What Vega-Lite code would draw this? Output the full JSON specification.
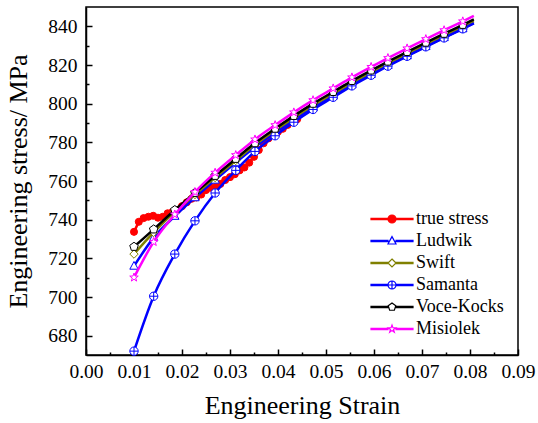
{
  "$schema": "https://vega.github.io/schema/vega-lite/v6.json",
  "width": 432,
  "height": 348,
  "autosize": {"type": "none"},
  "padding": {"left": 86, "top": 7, "right": 20, "bottom": 68},
  "config": {
    "view": {"stroke": "black", "strokeWidth": 1.5},
    "font": "Times New Roman",
    "axis": {
      "grid": false,
      "domainColor": "black",
      "domainWidth": 1.5,
      "tickColor": "black",
      "tickWidth": 1.5,
      "labelFont": "Times New Roman",
      "labelFontSize": 19.5,
      "labelColor": "black",
      "titleFont": "Times New Roman",
      "titleFontSize": 26,
      "titleFontWeight": "normal",
      "titleColor": "black"
    },
    "legend": {"labelFont": "Times New Roman", "labelFontSize": 18, "labelColor": "black"}
  },
  "data": {
    "values": [
      {"series": "true stress", "strain": 0.0100, "stress": 733.7},
      {"series": "true stress", "strain": 0.0110, "stress": 738.9},
      {"series": "true stress", "strain": 0.0120, "stress": 740.8},
      {"series": "true stress", "strain": 0.0130, "stress": 741.5},
      {"series": "true stress", "strain": 0.0140, "stress": 742.0},
      {"series": "true stress", "strain": 0.0150, "stress": 741.0},
      {"series": "true stress", "strain": 0.0160, "stress": 741.5},
      {"series": "true stress", "strain": 0.0170, "stress": 743.3},
      {"series": "true stress", "strain": 0.0180, "stress": 744.0},
      {"series": "true stress", "strain": 0.0190, "stress": 745.0},
      {"series": "true stress", "strain": 0.0200, "stress": 747.0},
      {"series": "true stress", "strain": 0.0210, "stress": 749.0},
      {"series": "true stress", "strain": 0.0220, "stress": 750.8},
      {"series": "true stress", "strain": 0.0230, "stress": 751.5},
      {"series": "true stress", "strain": 0.0240, "stress": 753.0},
      {"series": "true stress", "strain": 0.0250, "stress": 755.3},
      {"series": "true stress", "strain": 0.0260, "stress": 756.5},
      {"series": "true stress", "strain": 0.0270, "stress": 757.0},
      {"series": "true stress", "strain": 0.0280, "stress": 758.5},
      {"series": "true stress", "strain": 0.0290, "stress": 760.5},
      {"series": "true stress", "strain": 0.0300, "stress": 762.0},
      {"series": "true stress", "strain": 0.0310, "stress": 763.5},
      {"series": "true stress", "strain": 0.0320, "stress": 765.5},
      {"series": "true stress", "strain": 0.0330, "stress": 767.0},
      {"series": "true stress", "strain": 0.0340, "stress": 769.5},
      {"series": "true stress", "strain": 0.0350, "stress": 772.5},
      {"series": "true stress", "strain": 0.0360, "stress": 776.0},
      {"series": "true stress", "strain": 0.0370, "stress": 779.5},
      {"series": "true stress", "strain": 0.0380, "stress": 782.0},
      {"series": "true stress", "strain": 0.0390, "stress": 784.0},
      {"series": "true stress", "strain": 0.0400, "stress": 785.5},
      {"series": "true stress", "strain": 0.0410, "stress": 787.0},
      {"series": "true stress", "strain": 0.0420, "stress": 789.0},
      {"series": "true stress", "strain": 0.0430, "stress": 790.5},
      {"series": "true stress", "strain": 0.0440, "stress": 792.0},

      {"series": "Ludwik", "strain": 0.0100, "stress": 716.0},
      {"series": "Ludwik", "strain": 0.0141, "stress": 730.7},
      {"series": "Ludwik", "strain": 0.0185, "stress": 741.8},
      {"series": "Ludwik", "strain": 0.0227, "stress": 751.4},
      {"series": "Ludwik", "strain": 0.0269, "stress": 760.5},
      {"series": "Ludwik", "strain": 0.0312, "stress": 769.5},
      {"series": "Ludwik", "strain": 0.0352, "stress": 777.6},
      {"series": "Ludwik", "strain": 0.0394, "stress": 785.1},
      {"series": "Ludwik", "strain": 0.0433, "stress": 791.7},
      {"series": "Ludwik", "strain": 0.0473, "stress": 798.0},
      {"series": "Ludwik", "strain": 0.0515, "stress": 804.1},
      {"series": "Ludwik", "strain": 0.0554, "stress": 809.8},
      {"series": "Ludwik", "strain": 0.0594, "stress": 815.2},
      {"series": "Ludwik", "strain": 0.0629, "stress": 819.8},
      {"series": "Ludwik", "strain": 0.0669, "stress": 824.8},
      {"series": "Ludwik", "strain": 0.0708, "stress": 829.6},
      {"series": "Ludwik", "strain": 0.0746, "stress": 834.2},
      {"series": "Ludwik", "strain": 0.0785, "stress": 838.8},
      {"series": "Ludwik", "strain": 0.0808, "stress": 841.6},

      {"series": "Swift", "strain": 0.0100, "stress": 722.2},
      {"series": "Swift", "strain": 0.0141, "stress": 733.4},
      {"series": "Swift", "strain": 0.0185, "stress": 744.0},
      {"series": "Swift", "strain": 0.0227, "stress": 753.0},
      {"series": "Swift", "strain": 0.0269, "stress": 761.8},
      {"series": "Swift", "strain": 0.0312, "stress": 770.6},
      {"series": "Swift", "strain": 0.0352, "stress": 778.7},
      {"series": "Swift", "strain": 0.0394, "stress": 786.2},
      {"series": "Swift", "strain": 0.0433, "stress": 792.8},
      {"series": "Swift", "strain": 0.0473, "stress": 799.1},
      {"series": "Swift", "strain": 0.0515, "stress": 805.2},
      {"series": "Swift", "strain": 0.0554, "stress": 810.9},
      {"series": "Swift", "strain": 0.0594, "stress": 816.3},
      {"series": "Swift", "strain": 0.0629, "stress": 820.9},
      {"series": "Swift", "strain": 0.0669, "stress": 825.9},
      {"series": "Swift", "strain": 0.0708, "stress": 830.7},
      {"series": "Swift", "strain": 0.0746, "stress": 835.3},
      {"series": "Swift", "strain": 0.0785, "stress": 839.9},
      {"series": "Swift", "strain": 0.0808, "stress": 842.7},

      {"series": "Samanta", "strain": 0.0100, "stress": 672.0},
      {"series": "Samanta", "strain": 0.0141, "stress": 700.4},
      {"series": "Samanta", "strain": 0.0185, "stress": 722.2},
      {"series": "Samanta", "strain": 0.0227, "stress": 739.4},
      {"series": "Samanta", "strain": 0.0269, "stress": 753.8},
      {"series": "Samanta", "strain": 0.0312, "stress": 765.5},
      {"series": "Samanta", "strain": 0.0352, "stress": 775.3},
      {"series": "Samanta", "strain": 0.0394, "stress": 783.4},
      {"series": "Samanta", "strain": 0.0433, "stress": 790.4},
      {"series": "Samanta", "strain": 0.0473, "stress": 797.0},
      {"series": "Samanta", "strain": 0.0515, "stress": 803.3},
      {"series": "Samanta", "strain": 0.0554, "stress": 809.2},
      {"series": "Samanta", "strain": 0.0594, "stress": 814.7},
      {"series": "Samanta", "strain": 0.0629, "stress": 819.4},
      {"series": "Samanta", "strain": 0.0669, "stress": 824.5},
      {"series": "Samanta", "strain": 0.0708, "stress": 829.4},
      {"series": "Samanta", "strain": 0.0746, "stress": 834.0},
      {"series": "Samanta", "strain": 0.0785, "stress": 838.7},
      {"series": "Samanta", "strain": 0.0808, "stress": 841.5},

      {"series": "Voce-Kocks", "strain": 0.0100, "stress": 726.0},
      {"series": "Voce-Kocks", "strain": 0.0141, "stress": 735.0},
      {"series": "Voce-Kocks", "strain": 0.0185, "stress": 745.0},
      {"series": "Voce-Kocks", "strain": 0.0227, "stress": 753.9},
      {"series": "Voce-Kocks", "strain": 0.0269, "stress": 762.7},
      {"series": "Voce-Kocks", "strain": 0.0312, "stress": 771.5},
      {"series": "Voce-Kocks", "strain": 0.0352, "stress": 779.6},
      {"series": "Voce-Kocks", "strain": 0.0394, "stress": 787.1},
      {"series": "Voce-Kocks", "strain": 0.0433, "stress": 793.7},
      {"series": "Voce-Kocks", "strain": 0.0473, "stress": 800.0},
      {"series": "Voce-Kocks", "strain": 0.0515, "stress": 806.1},
      {"series": "Voce-Kocks", "strain": 0.0554, "stress": 811.8},
      {"series": "Voce-Kocks", "strain": 0.0594, "stress": 817.2},
      {"series": "Voce-Kocks", "strain": 0.0629, "stress": 821.8},
      {"series": "Voce-Kocks", "strain": 0.0669, "stress": 826.8},
      {"series": "Voce-Kocks", "strain": 0.0708, "stress": 831.6},
      {"series": "Voce-Kocks", "strain": 0.0746, "stress": 836.2},
      {"series": "Voce-Kocks", "strain": 0.0785, "stress": 840.8},
      {"series": "Voce-Kocks", "strain": 0.0808, "stress": 843.6},

      {"series": "Misiolek", "strain": 0.0100, "stress": 710.1},
      {"series": "Misiolek", "strain": 0.0141, "stress": 728.5},
      {"series": "Misiolek", "strain": 0.0185, "stress": 742.7},
      {"series": "Misiolek", "strain": 0.0227, "stress": 754.3},
      {"series": "Misiolek", "strain": 0.0269, "stress": 764.3},
      {"series": "Misiolek", "strain": 0.0312, "stress": 773.4},
      {"series": "Misiolek", "strain": 0.0352, "stress": 781.5},
      {"series": "Misiolek", "strain": 0.0394, "stress": 788.9},
      {"series": "Misiolek", "strain": 0.0433, "stress": 795.5},
      {"series": "Misiolek", "strain": 0.0473, "stress": 801.8},
      {"series": "Misiolek", "strain": 0.0515, "stress": 807.9},
      {"series": "Misiolek", "strain": 0.0554, "stress": 813.6},
      {"series": "Misiolek", "strain": 0.0594, "stress": 819.0},
      {"series": "Misiolek", "strain": 0.0629, "stress": 823.6},
      {"series": "Misiolek", "strain": 0.0669, "stress": 828.6},
      {"series": "Misiolek", "strain": 0.0708, "stress": 833.4},
      {"series": "Misiolek", "strain": 0.0746, "stress": 838.0},
      {"series": "Misiolek", "strain": 0.0785, "stress": 842.6},
      {"series": "Misiolek", "strain": 0.0808, "stress": 845.4}
    ]
  },
  "encoding": {
    "x": {
      "field": "strain",
      "type": "quantitative",
      "scale": {"domain": [0, 0.09], "nice": false, "zero": false},
      "axis": {
        "title": "Engineering Strain",
        "values": [0, 0.005, 0.01, 0.015, 0.02, 0.025, 0.03, 0.035, 0.04, 0.045, 0.05, 0.055, 0.06, 0.065, 0.07, 0.075, 0.08, 0.085, 0.09],
        "labelExpr": "round(datum.value * 1000) % 10 == 0 ? format(datum.value, '.2f') : ''",
        "tickSize": {"condition": {"test": "round(datum.value * 1000) % 10 != 0", "value": -3}, "value": -6},
        "labelPadding": 13,
        "labelFlush": false,
        "labelOverlap": false,
        "titlePadding": 9
      }
    },
    "y": {
      "field": "stress",
      "type": "quantitative",
      "scale": {"domain": [670, 850], "nice": false, "zero": false},
      "axis": {
        "title": "Engineering stress/ MPa",
        "values": [680, 690, 700, 710, 720, 730, 740, 750, 760, 770, 780, 790, 800, 810, 820, 830, 840],
        "labelExpr": "datum.value % 20 == 0 ? format(datum.value, 'd') : ''",
        "tickSize": {"condition": {"test": "datum.value % 20 != 0", "value": -3}, "value": -6},
        "labelPadding": 15,
        "labelOverlap": false,
        "titlePadding": 16
      }
    },
    "color": {
      "field": "series",
      "type": "nominal",
      "scale": {
        "domain": ["true stress", "Ludwik", "Swift", "Samanta", "Voce-Kocks", "Misiolek"],
        "range": ["#ff0000", "#0000ff", "#808000", "#0000ff", "#000000", "#ff00ff"]
      },
      "legend": {
        "title": null,
        "orient": "none",
        "legendX": 297,
        "legendY": 203,
        "padding": 0,
        "labelOffset": 15,
        "rowPadding": 4,
        "symbolSize": 64,
        "symbolFillColor": "white",
        "encode": {
          "symbols": {
            "update": {
              "shape": {"signal": "{'true stress': 'M-5.25,-0.15L5.25,-0.15L5.25,0.15L-5.25,0.15ZM-1,0A1,1,0,1,1,1,0A1,1,0,1,1,-1,0Z', 'Ludwik': 'M-5.25,-0.15L-1,-0.15L-1,0.15L-5.25,0.15ZM1,-0.15L5.25,-0.15L5.25,0.15L1,0.15ZM0,-1.1L1,0.75L-1,0.75Z', 'Swift': 'M-5.25,-0.15L-1,-0.15L-1,0.15L-5.25,0.15ZM1,-0.15L5.25,-0.15L5.25,0.15L1,0.15ZM0,-1L1,0L0,1L-1,0Z', 'Samanta': 'M-5.25,-0.15L-1,-0.15L-1,0.15L-5.25,0.15ZM1,-0.15L5.25,-0.15L5.25,0.15L1,0.15ZM-1,0A1,1,0,1,1,1,0A1,1,0,1,1,-1,0ZM-1,0L1,0M0,-1L0,1', 'Voce-Kocks': 'M-5.25,-0.15L-1,-0.15L-1,0.15L-5.25,0.15ZM1,-0.15L5.25,-0.15L5.25,0.15L1,0.15ZM0,-1L0.951,-0.309L0.588,0.809L-0.588,0.809L-0.951,-0.309Z', 'Misiolek': 'M-5.25,-0.15L-1,-0.15L-1,0.15L-5.25,0.15ZM1,-0.15L5.25,-0.15L5.25,0.15L1,0.15ZM0,-1L0.235,-0.324L0.951,-0.309L0.38,0.124L0.588,0.809L0,0.4L-0.588,0.809L-0.38,0.124L-0.951,-0.309L-0.235,-0.324Z'}[datum.value]"},
              "fill": {"signal": "datum.value === 'true stress' ? '#ff0000' : '#ffffff'"},
              "strokeWidth": {"value": 1.2},
              "size": {"value": 64},
              "opacity": {"value": 1}
            }
          }
        }
      }
    }
  },
  "layer": [
    {"transform": [{"filter": "datum.series === 'true stress'"}], "mark": {"type": "line", "strokeWidth": 2.5}},
    {"transform": [{"filter": "datum.series === 'true stress'"}], "mark": {"type": "point", "filled": false, "fill": "#ff0000", "size": 50, "opacity": 1, "strokeWidth": 1, "shape": "circle"}},

    {"transform": [{"filter": "datum.series === 'Ludwik'"}], "mark": {"type": "line", "strokeWidth": 2.5, "interpolate": "monotone"}},
    {"transform": [{"filter": "datum.series === 'Ludwik' && datum.strain < 0.079"}], "mark": {"type": "point", "filled": false, "fill": "white", "size": 70, "opacity": 1, "strokeWidth": 1, "shape": "M0,-1.1L1,0.75L-1,0.75Z"}},

    {"transform": [{"filter": "datum.series === 'Swift'"}], "mark": {"type": "line", "strokeWidth": 2.5, "interpolate": "monotone"}},
    {"transform": [{"filter": "datum.series === 'Swift' && datum.strain < 0.079"}], "mark": {"type": "point", "filled": false, "fill": "white", "size": 70, "opacity": 1, "strokeWidth": 1, "shape": "M0,-1L1,0L0,1L-1,0Z"}},

    {"transform": [{"filter": "datum.series === 'Samanta'"}], "mark": {"type": "line", "strokeWidth": 2.5, "interpolate": "monotone"}},
    {"transform": [{"filter": "datum.series === 'Samanta' && datum.strain < 0.079"}], "mark": {"type": "point", "filled": false, "fill": "white", "size": 70, "opacity": 1, "strokeWidth": 1, "shape": "M-1,0A1,1,0,1,1,1,0A1,1,0,1,1,-1,0ZM-1,0L1,0M0,-1L0,1"}},

    {"transform": [{"filter": "datum.series === 'Voce-Kocks'"}], "mark": {"type": "line", "strokeWidth": 2.5, "interpolate": "monotone"}},
    {"transform": [{"filter": "datum.series === 'Voce-Kocks' && datum.strain < 0.079"}], "mark": {"type": "point", "filled": false, "fill": "white", "size": 80, "opacity": 1, "strokeWidth": 1, "shape": "M0,-1L0.951,-0.309L0.588,0.809L-0.588,0.809L-0.951,-0.309Z"}},

    {"transform": [{"filter": "datum.series === 'Misiolek'"}], "mark": {"type": "line", "strokeWidth": 2.5, "interpolate": "monotone"}},
    {"transform": [{"filter": "datum.series === 'Misiolek' && datum.strain < 0.079"}], "mark": {"type": "point", "filled": false, "fill": "white", "size": 80, "opacity": 1, "strokeWidth": 1, "shape": "M0,-1L0.235,-0.324L0.951,-0.309L0.38,0.124L0.588,0.809L0,0.4L-0.588,0.809L-0.38,0.124L-0.951,-0.309L-0.235,-0.324Z"}}
  ]
}
